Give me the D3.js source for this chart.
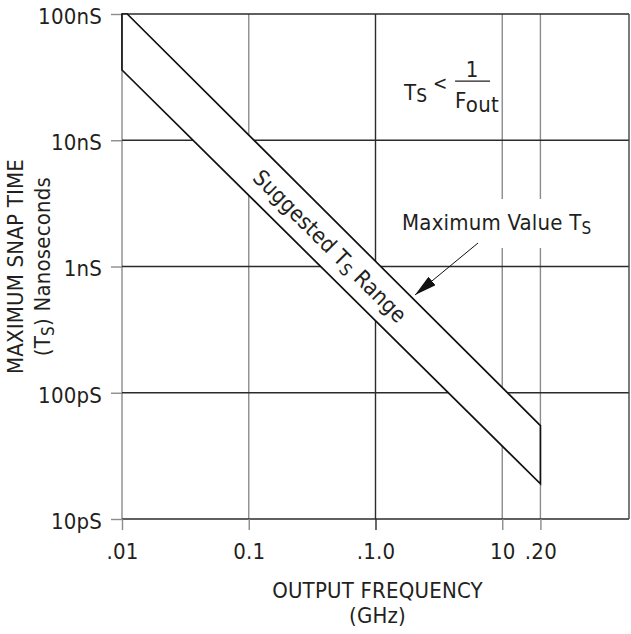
<!DOCTYPE html>
<html>
<head>
<meta charset="utf-8">
<script src="https://cdn.jsdelivr.net/npm/d3@7"></script>
<style>
  body { margin: 0; background: #fff; }
  text { font-family: "DejaVu Sans Condensed", "Liberation Sans Narrow", sans-serif; fill: #231f20; letter-spacing: 0.2px; }
</style>
</head>
<body>
<div id="chart"></div>
<script>
const WIDTH = 631, HEIGHT = 634
const MARGIN = { top: 14, right: 2, bottom: 115, left: 122 }

// x axis, output frequency (GHz)
const xTicks = [0.01, 0.1, 1, 10, 20]
const xTickLabels = ['.01', '0.1', '.1.0', '10', '.20']
// y axis, snap time (ns)
const yTicks = [0.01, 0.1, 1, 10, 100]
const yTickLabels = ['10pS', '100pS', '1nS', '10nS', '100nS']

// band edges: frequency (GHz) -> snap time (ns)
const upperFreq = [0.01, 0.011, 20]
const upperTime = [100, 100, 0.055]
const lowerFreq = [0.01, 20]
const lowerTime = [36, 0.019]

// annotation anchors [GHz, ns]
const bandLabelAt = [0.4375, 1.45]
const formulaAt = [1.68, 20.8]
const maxLabelAt = [1.62, 1.945]
const arrowFrom = [6.44, 1.535]
const arrowTo = [2.05, 0.595]

const DARK = '#2b2b2b', GRAY = '#8c8c8c'
const FONT = '22px', SUB = '17px'

const W = WIDTH - MARGIN.left - MARGIN.right
const H = HEIGHT - MARGIN.top - MARGIN.bottom

const svg = d3.select('#chart').append('svg')
  .attr('width', WIDTH).attr('height', HEIGHT)

const g = svg.append('g').attr('transform', `translate(${MARGIN.left},${MARGIN.top})`)

const x = d3.scaleLog().domain([0.01, 100]).range([0, W])
const y = d3.scaleLog().domain([0.01, 100]).range([H, 0])

// ── grid ─────────────────────────────────────────────────────
g.append('g').selectAll('line').data(xTicks).join('line')
  .attr('x1', d => x(d)).attr('x2', d => x(d))
  .attr('y1', 0).attr('y2', H)
  .attr('stroke', d => d === 1 ? DARK : GRAY)
  .attr('stroke-width', 1.4)

g.append('g').selectAll('line').data(yTicks).join('line')
  .attr('x1', 0).attr('x2', W)
  .attr('y1', d => y(d)).attr('y2', d => y(d))
  .attr('stroke', DARK)
  .attr('stroke-width', 1.4)

// right edge of frame
g.append('line')
  .attr('x1', W).attr('x2', W).attr('y1', 0).attr('y2', H)
  .attr('stroke', '#444').attr('stroke-width', 1.4)

// ── axes ─────────────────────────────────────────────────────
const xAxis = g.append('g').attr('transform', `translate(0,${H})`)
  .call(d3.axisBottom(x).tickValues(xTicks).tickFormat((d, i) => xTickLabels[i]).tickSize(11).tickPadding(13))
xAxis.select('.domain').remove()
xAxis.selectAll('line').attr('stroke', d => d === 1 ? DARK : GRAY).attr('stroke-width', 1.4)
xAxis.selectAll('text').style('font-size', FONT).attr('fill', '#231f20')

const yAxis = g.append('g')
  .call(d3.axisLeft(y).tickValues(yTicks).tickFormat((d, i) => yTickLabels[i]).tickSize(11).tickPadding(9))
yAxis.select('.domain').remove()
yAxis.selectAll('line').attr('stroke', GRAY).attr('stroke-width', 1.4)
yAxis.selectAll('text').style('font-size', FONT).attr('dy', '0.42em').attr('fill', '#231f20')

// ── band ─────────────────────────────────────────────────────
const upperPts = upperFreq.map((f, i) => [x(f), y(upperTime[i])])
const lowerPts = lowerFreq.map((f, i) => [x(f), y(lowerTime[i])])
const bandPts = upperPts.concat(lowerPts.slice().reverse())

g.append('path')
  .attr('d', d3.line()(bandPts) + 'Z')
  .attr('fill', '#fff')
  .attr('stroke', '#111')
  .attr('stroke-width', 1.7)
  .attr('stroke-linejoin', 'miter')

// band label, rotated along the band
const p0 = upperPts[1], p1 = upperPts[2]
const angle = Math.atan2(p1[1] - p0[1], p1[0] - p0[0]) * 180 / Math.PI
const bandLabel = g.append('text')
  .attr('transform', `translate(${x(bandLabelAt[0])},${y(bandLabelAt[1])}) rotate(${angle})`)
  .attr('text-anchor', 'middle')
  .attr('dy', '0.35em')
  .style('font-size', FONT)
bandLabel.append('tspan').text('Suggested T')
bandLabel.append('tspan').text('S').attr('dy', 4).style('font-size', SUB)
bandLabel.append('tspan').text(' Range').attr('dy', -4)

// ── formula Ts < 1/Fout ──────────────────────────────────────
const fx = x(formulaAt[0]), fy = y(formulaAt[1])
const formula = g.append('g').attr('transform', `translate(${fx},${fy})`)
const ts = formula.append('text').style('font-size', FONT)
ts.append('tspan').text('T')
ts.append('tspan').text('S').attr('dy', 2).style('font-size', '19px')
formula.append('text').attr('x', 29).attr('y', -10).style('font-size', '19px').text('<')
formula.append('line')
  .attr('x1', 51).attr('x2', 86).attr('y1', -19).attr('y2', -19)
  .attr('stroke', '#231f20').attr('stroke-width', 1.3)
formula.append('text').attr('x', 68).attr('y', -23).attr('text-anchor', 'middle')
  .style('font-size', FONT).text('1')
const fo = formula.append('text').attr('x', 51).attr('y', 8).style('font-size', FONT)
fo.append('tspan').text('F')
fo.append('tspan').text('out').attr('dy', 4)

// ── maximum value label + arrow ──────────────────────────────
svg.append('defs').append('marker')
  .attr('id', 'arrowhead')
  .attr('markerUnits', 'userSpaceOnUse')
  .attr('viewBox', '0 0 22 11')
  .attr('refX', 22).attr('refY', 5.5)
  .attr('markerWidth', 22).attr('markerHeight', 11)
  .attr('orient', 'auto')
  .append('path').attr('d', 'M0,0 L22,5.5 L0,11 Z').attr('fill', '#111')

const maxG = g.append('g')
const maxText = maxG.append('text')
  .attr('x', x(maxLabelAt[0])).attr('y', y(maxLabelAt[1]))
  .style('font-size', FONT)
maxText.append('tspan').text('Maximum Value T')
maxText.append('tspan').text('S').attr('dy', 4).style('font-size', SUB)
const bb = maxText.node().getBBox()
maxG.insert('rect', 'text')
  .attr('x', bb.x - 4).attr('y', bb.y - 11)
  .attr('width', bb.width + 8).attr('height', bb.height + 21)
  .attr('fill', '#fff')

g.append('line')
  .attr('x1', x(arrowFrom[0])).attr('y1', y(arrowFrom[1]))
  .attr('x2', x(arrowTo[0])).attr('y2', y(arrowTo[1]))
  .attr('stroke', '#111').attr('stroke-width', 1)
  .attr('marker-end', 'url(#arrowhead)')

// ── axis titles ──────────────────────────────────────────────
const midY = MARGIN.top + H / 2
svg.append('text')
  .attr('transform', `translate(23,${midY}) rotate(-90)`)
  .attr('text-anchor', 'middle')
  .style('font-size', FONT)
  .text('MAXIMUM SNAP TIME')
const yt2 = svg.append('text')
  .attr('transform', `translate(50,${midY}) rotate(-90)`)
  .attr('text-anchor', 'middle')
  .style('font-size', FONT)
yt2.append('tspan').text('(T')
yt2.append('tspan').text('S').attr('dy', 4).style('font-size', SUB)
yt2.append('tspan').text(') Nanoseconds').attr('dy', -4)

const midX = MARGIN.left + W / 2 + 2
svg.append('text').attr('x', midX).attr('y', 598)
  .attr('text-anchor', 'middle').style('font-size', FONT)
  .text('OUTPUT FREQUENCY')
svg.append('text').attr('x', midX).attr('y', 623)
  .attr('text-anchor', 'middle').style('font-size', FONT)
  .text('(GHz)')
</script>
</body>
</html>
